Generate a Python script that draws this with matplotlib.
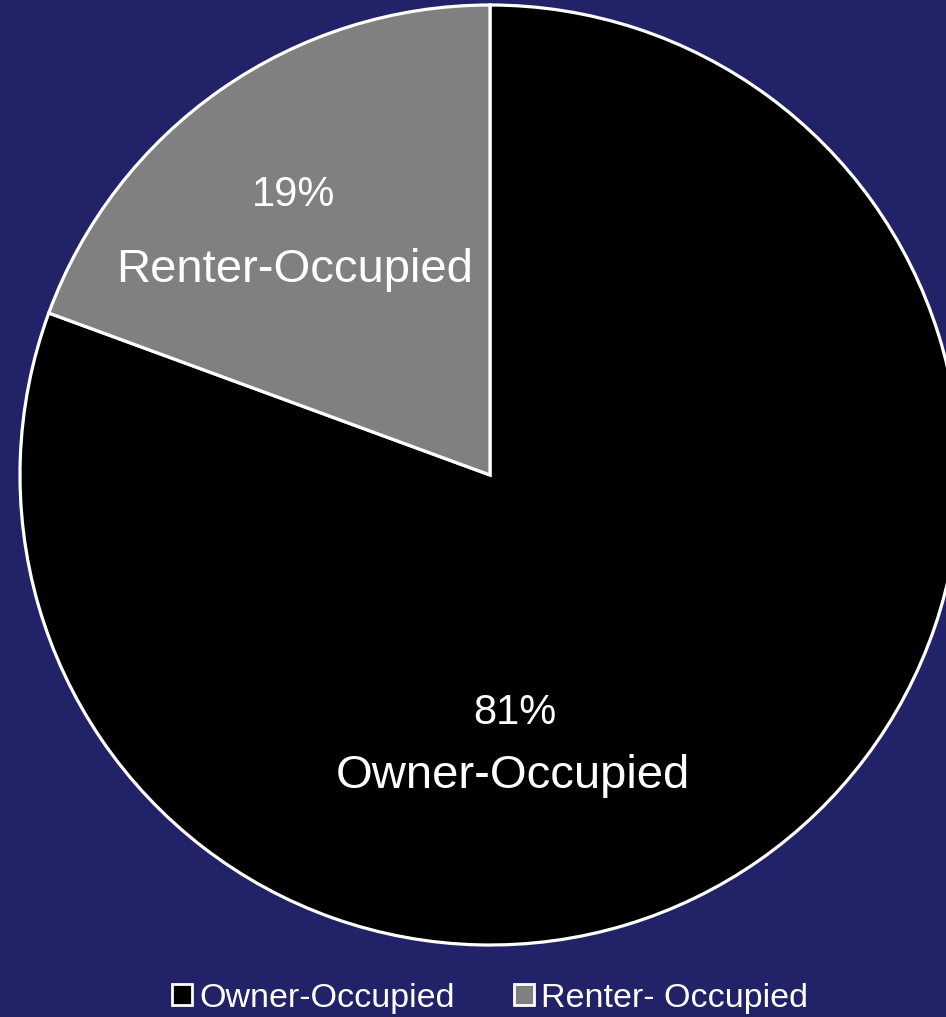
import matplotlib.pyplot as plt
from matplotlib.patches import Patch

plt.rcParams['font.family'] = ['Liberation Sans', 'DejaVu Sans']

labels = ['Owner-Occupied', 'Renter-Occupied']
legend_labels = ['Owner-Occupied', 'Renter- Occupied']
shares = [80.6, 19.4]
colors = ['#000000', '#808080']
bg = '#222268'

fig = plt.figure(figsize=(9.46, 10.17), dpi=100)
fig.patch.set_facecolor(bg)
W, H = 946, 1017
cx, cy, r = 490, 475, 470
ax = fig.add_axes([(cx - r) / W, (H - cy - r) / H, 2 * r / W, 2 * r / H])
ax.set_facecolor(bg)

# clockwise from the top: owner first, then renter
wedges, _ = ax.pie(shares, colors=colors, startangle=90, counterclock=False,
                   wedgeprops=dict(edgecolor='white', linewidth=2.3))
ax.set_xlim(-1, 1)
ax.set_ylim(-1, 1)
ax.set_aspect('equal')
ax.axis('off')
for w in wedges:
    w.set_clip_on(False)

label_pos = {'Owner-Occupied': ((0.053, -0.506), (0.049, -0.640)),
             'Renter-Occupied': ((-0.419, 0.596), (-0.415, 0.436))}
for lab, val in zip(labels, shares):
    (px, py), (nx, ny) = label_pos[lab]
    ax.text(px, py, f'{val:.0f}%', color='white', fontsize=30, ha='center', va='center')
    ax.text(nx, ny, lab, color='white', fontsize=34, ha='center', va='center')

handles = [Patch(facecolor=c, edgecolor='white', linewidth=2) for c in colors]
fig.legend(handles, legend_labels, loc='center', bbox_to_anchor=(cx / W, 1 - 998 / H),
           ncol=2, frameon=False, fontsize=24.5, labelcolor='white',
           handlelength=0.6, handleheight=0.6, handletextpad=0.2, columnspacing=1.75)

fig.savefig('out.png', dpi=100, facecolor=bg)
